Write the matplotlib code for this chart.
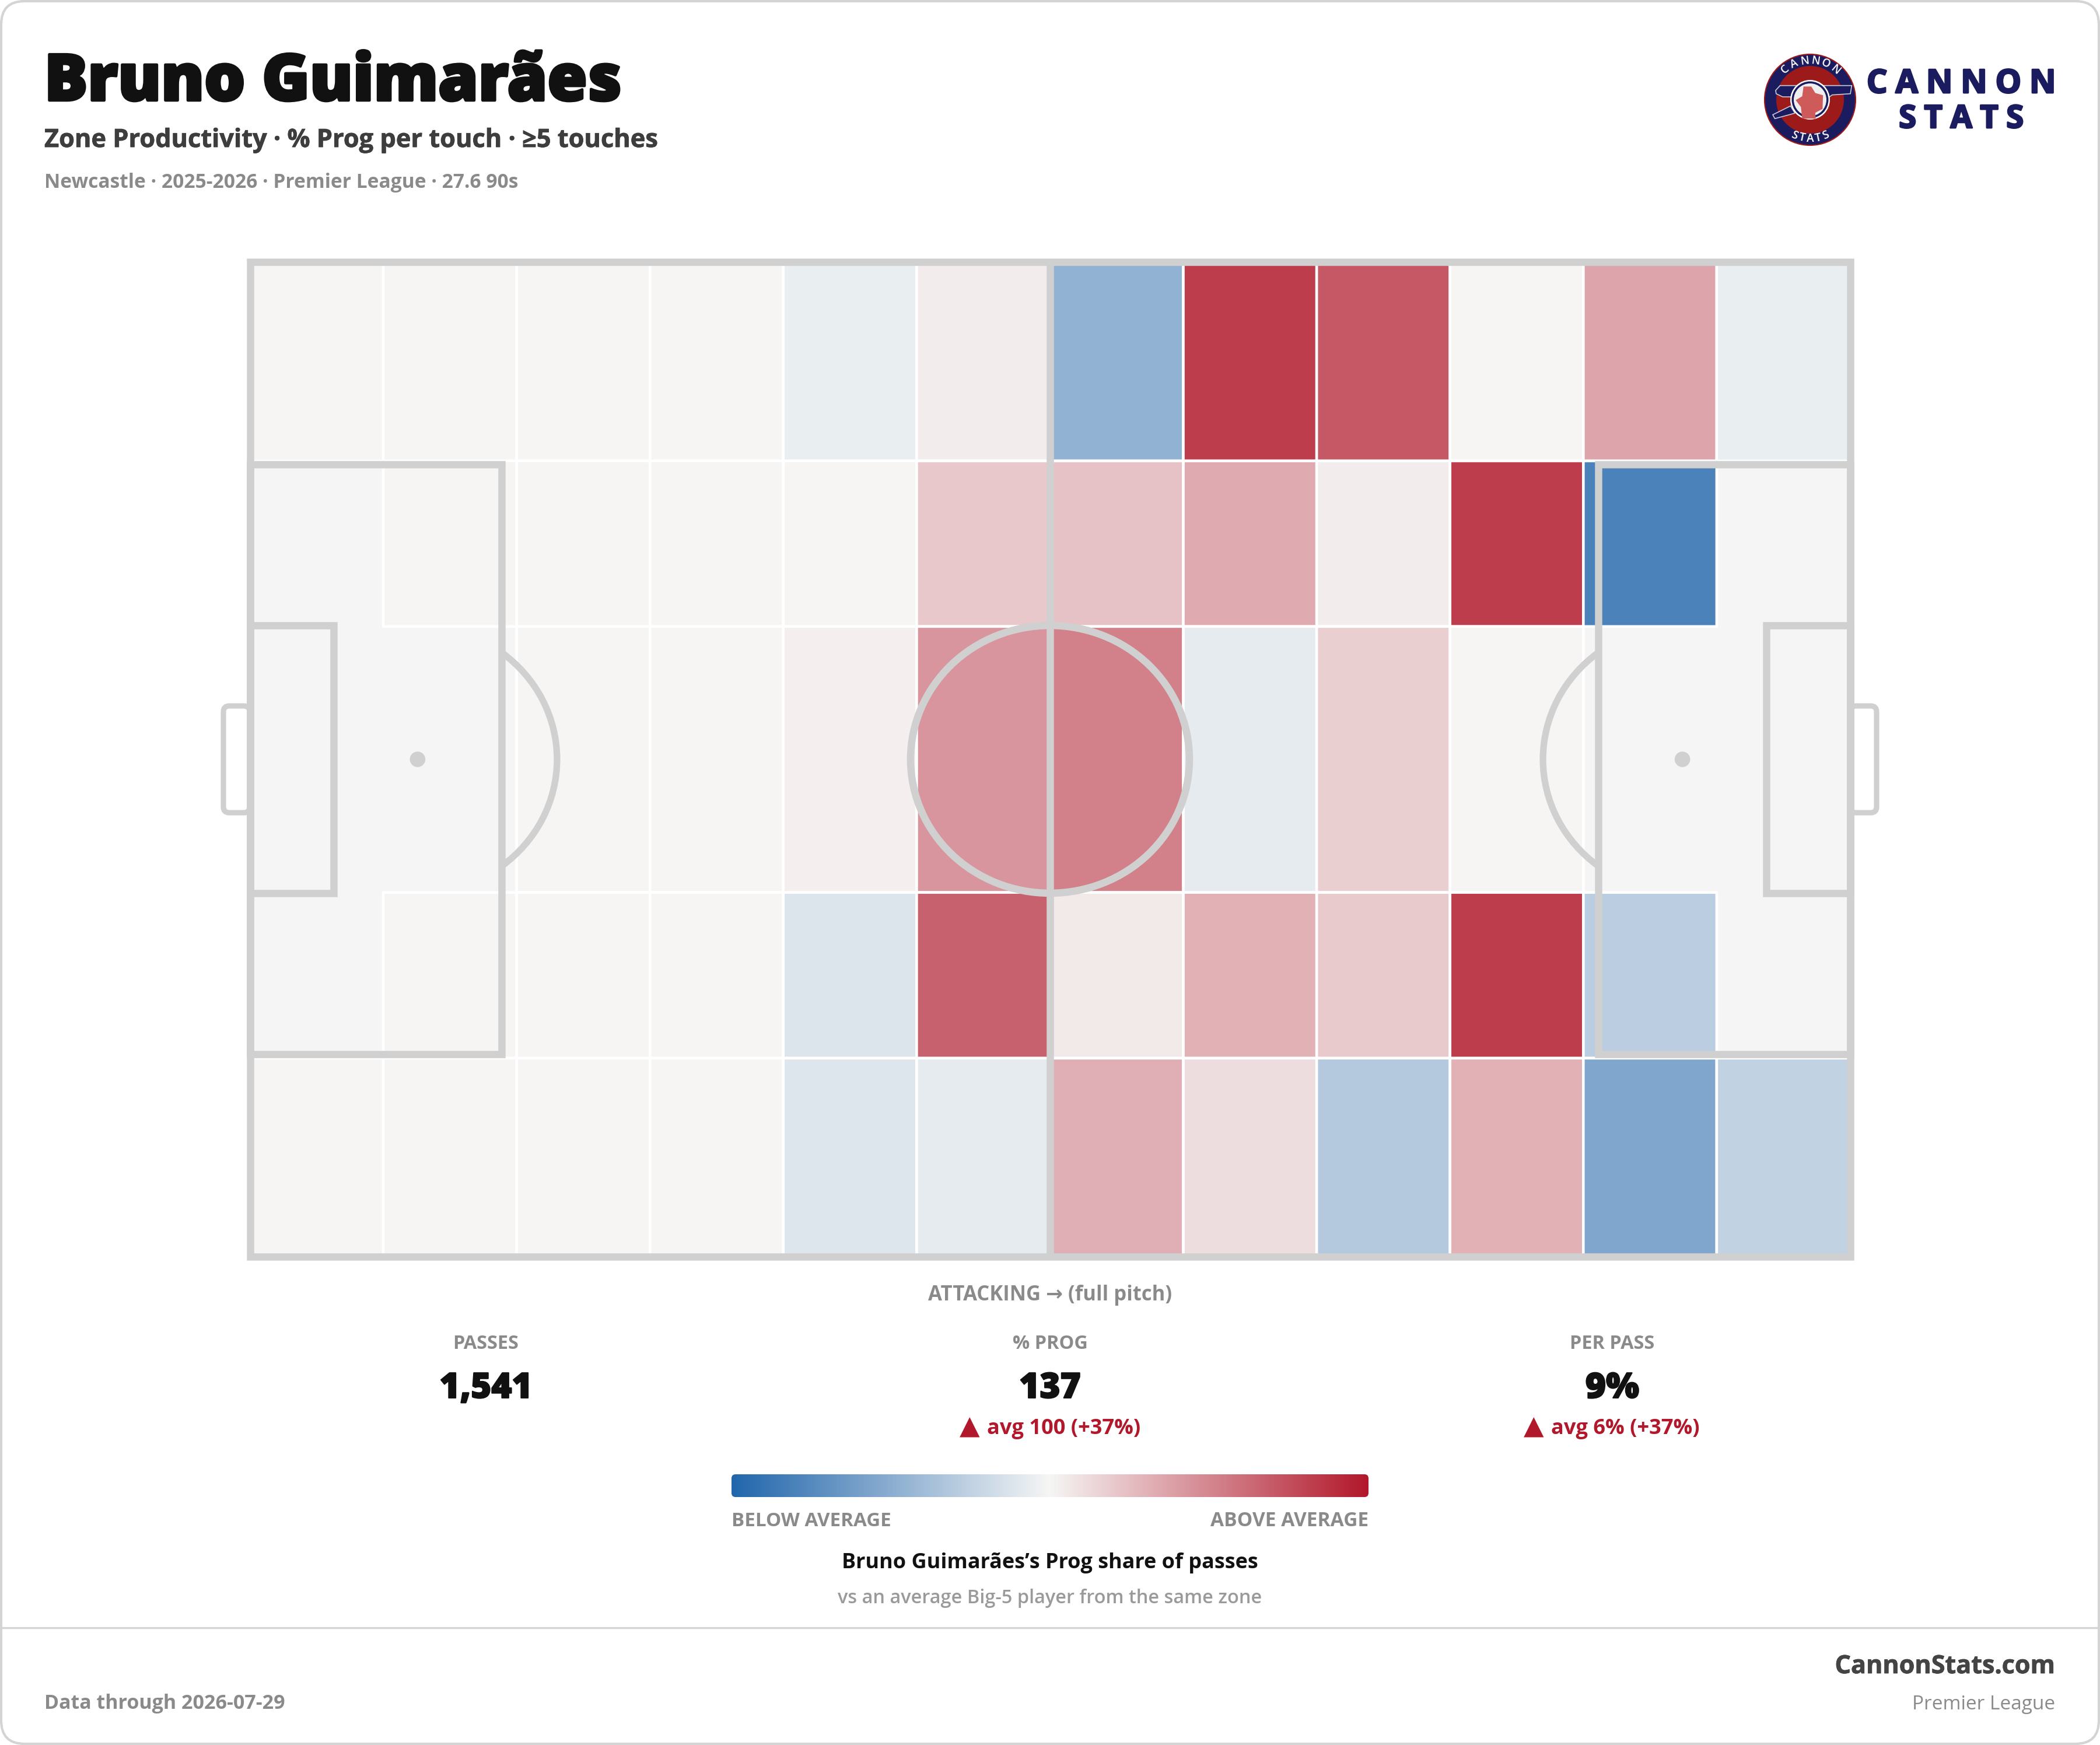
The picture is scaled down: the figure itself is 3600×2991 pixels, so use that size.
#!/usr/bin/env python3
# zone productivity pitch card
import numpy as np
import matplotlib
matplotlib.use("Agg")
import matplotlib.pyplot as plt
import matplotlib.patheffects as pe
from matplotlib.colors import LinearSegmentedColormap
from matplotlib.patches import Circle, Ellipse, FancyBboxPatch, Polygon, Rectangle, Arc

plt.rcParams["font.family"] = ["Open Sans", "DejaVu Sans"]

W, H = 3600, 2991

player = "Bruno Guimarães"
subtitle = "Zone Productivity · % Prog per touch · ≥5 touches"
meta = "Newcastle · 2025-2026 · Premier League · 27.6 90s"

# zone edges in metres, 105 x 68 pitch
x_edges = [0, 8.75, 17.5, 26.25, 35, 43.75, 52.5, 61.25, 70, 78.75, 87.5, 96.25, 105]
y_edges = [0, 13.6, 24.92, 43.1, 54.43, 68]

# share vs average per zone, -1 .. 1, nan = zone not drawn
row1 = [0, 0, 0, 0, -0.06, 0.045, -0.47, 0.83, 0.71, 0, 0.36, -0.06]
row2 = [np.nan, 0, 0, 0, 0, 0.21, 0.235, 0.34, 0.045, 0.83, -0.80, np.nan]
row3 = [np.nan, np.nan, 0, 0, 0.035, 0.43, 0.53, -0.075, 0.175, 0, np.nan, np.nan]
row4 = [np.nan, 0, 0, 0, -0.12, 0.67, 0.06, 0.31, 0.20, 0.83, -0.28, np.nan]
row5 = [0, 0, 0, 0, -0.11, -0.075, 0.32, 0.11, -0.31, 0.31, -0.55, -0.245]

stat_labels = ["PASSES", "% PROG", "PER PASS"]
stat_values = ["1,541", "137", "9%"]
stat_deltas = ["", "avg 100 (+37%)", "avg 6% (+37%)"]
stat_x = [833, 1800, 2764]
delta_x = [0, 1649, 2616]

LINE = "#d0d0d0"
GREY = "#8a8a8a"
RED = "#b2182b"
NAVY = "#1b1b60"
cmap = LinearSegmentedColormap.from_list("zone", ["#2166ac", "#f6f6f5", "#b2182b"])

fig = plt.figure(figsize=(W / 300, H / 300), dpi=300, facecolor="white")

# page layer in pixel coords
page = fig.add_axes([0, 0, 1, 1])
page.set_xlim(0, W)
page.set_ylim(H, 0)
page.axis("off")


def label(x, y, s, size, color, weight="bold", ha="left", stroke=0, **kw):
    t = page.text(x, y, s, fontsize=size, color=color, fontweight=weight, ha=ha, va="baseline", **kw)
    if stroke:
        t.set_path_effects([pe.withStroke(linewidth=stroke, foreground=color)])
    return t


page.add_patch(FancyBboxPatch((2, 2), W - 4, H - 4, boxstyle="round,pad=0,rounding_size=40",
                              fc="white", ec="#d4d4d4", lw=1))
page.plot([2, W - 2], [2790, 2790], color="#d4d4d4", lw=0.8)

label(76, 172, player, 26.5, "#111111", weight="extra bold", stroke=1.1)
label(76, 252, subtitle, 10.4, "#3d3d3d", stroke=0.2)
label(76, 322, meta, 8.05, GREY)

# logo
cx, cy = 3103, 171
page.add_patch(Circle((cx, cy), 78, fc=NAVY, ec="#9c1a1a", lw=0.5))
page.add_patch(Circle((cx, cy), 58, fc="#9c1a1a", ec="none"))


def lz(pts):
    return [(2902 + a / 2.24, 40 + b / 3) for a, b in pts]


barrel = lz([(335, 320), (610, 320), (605, 362), (535, 368), (525, 378), (345, 378), (320, 362), (318, 345)])
page.add_patch(Polygon(barrel, fc=NAVY, ec="#c9c9d6", lw=0.4))
leg = lz([(307, 470), (375, 425), (392, 462), (315, 490)])
page.add_patch(Polygon(leg, fc=NAVY, ec="#c9c9d6", lw=0.4))
page.add_patch(Circle((cx, cy), 34, fc="white", ec="none"))
page.add_patch(Circle((cx, cy), 31.5, fc=NAVY, ec="none"))
page.add_patch(Circle((cx, cy), 28, fc="#eeeeee", ec="none"))
cross = lz([(425, 325), (455, 325), (470, 358), (500, 370), (498, 440), (470, 460), (472, 490),
            (420, 490), (415, 430), (395, 395), (420, 375)])
page.add_patch(Polygon(cross, fc="#cf5a5a", ec="none"))
for word, a0, step, rad, flip in [("CANNON", -40, 16, 67, False), ("STATS", 24, -12, 67, True)]:
    for i, ch in enumerate(word):
        ang = np.radians(a0 + i * step)
        px = cx + rad * np.sin(ang)
        py = cy + (-rad * np.cos(ang) if not flip else rad * np.cos(ang))
        rot = -np.degrees(ang) if not flip else np.degrees(ang)
        page.text(px, py, ch, fontsize=4.6, color="white", fontweight="semibold", ha="center", va="center",
                  rotation=rot, rotation_mode="anchor")

label(3362, 159, "\u2005".join("CANNON"), 13.4, NAVY, ha="center", stroke=0.7)
label(3362, 219, "\u2005".join("STATS"), 13.0, NAVY, ha="center", stroke=0.7)

# pitch, metres, y down
pitch_left, pitch_right, pitch_top, pitch_bottom = 428.5, 3171.5, 449, 2154
pitch = fig.add_axes([pitch_left / W, 1 - pitch_bottom / H,
                      (pitch_right - pitch_left) / W, (pitch_bottom - pitch_top) / H])
pitch.set_xlim(0, 105)
pitch.set_ylim(68, 0)
pitch.set_facecolor("#f5f5f5")
for s in pitch.spines.values():
    s.set_visible(False)
pitch.set_xticks([])
pitch.set_yticks([])

zones = np.ma.masked_invalid(np.array([row1, row2, row3, row4, row5]))
pitch.pcolor(x_edges, y_edges, zones, cmap=cmap, vmin=-1, vmax=1, edgecolors="white", linewidth=1.1)

lw_main = 3.0
kw = dict(fill=False, ec=LINE, lw=lw_main, clip_on=False, zorder=4)
pitch.add_patch(Rectangle((0, 0), 105, 68, joinstyle="miter", **kw))
pitch.plot([52.5, 52.5], [0, 68], color=LINE, lw=lw_main, zorder=4, solid_capstyle="butt")
pitch.add_patch(Ellipse((52.5, 34), 18.3, 18.3, **kw))
for x0, w in [(0, 16.5), (105 - 16.5, 16.5)]:
    pitch.add_patch(Rectangle((x0, 13.84), w, 40.32, joinstyle="miter", **kw))
for x0, w in [(0, 5.5), (105 - 5.5, 5.5)]:
    pitch.add_patch(Rectangle((x0, 24.84), w, 18.32, joinstyle="miter", **kw))
for x0, spot, t1, t2 in [(16.5, 11, -53, 53), (88.5, 94, 127, 233)]:
    pitch.add_patch(Arc((spot, 34), 18.3, 18.3, theta1=t1, theta2=t2, ec=LINE, lw=2.7, zorder=4))
    pitch.add_patch(Ellipse((spot, 34), 1.02, 1.06, fc=LINE, ec="none", zorder=4))

# goals sit outside the axes, drawn on the page layer
for gx, gw in [(383, 45), (3172, 45)]:
    page.add_patch(FancyBboxPatch((gx, 1210), gw, 183, boxstyle="round,pad=0,rounding_size=10",
                                  fc="white", ec=LINE, lw=2.2, zorder=1))

label(1800, 2229, "ATTACKING → (full pitch)", 8.3, GREY, ha="center")
for x, dx, lab, val, delta in zip(stat_x, delta_x, stat_labels, stat_values, stat_deltas):
    label(x, 2312, lab, 7.8, GREY, ha="center")
    label(x, 2396, val, 14.4, "#111111", weight="extra bold", ha="center", stroke=0.5)
    if delta:
        # triangle is larger than the text beside it
        label(dx - 4, 2458, "▲", 10.8, RED)
        label(dx + 43, 2458, delta, 8.7, RED)

# colour scale
bar = fig.add_axes([1254 / W, 1 - 2566 / H, (2346 - 1254) / W, 39 / H])
img = bar.imshow(np.linspace(-1, 1, 512)[None, :], cmap=cmap, vmin=-1, vmax=1, aspect="auto",
                 extent=(0, 1092, 39, 0))
clip = FancyBboxPatch((0, 0), 1092, 39, boxstyle="round,pad=0,rounding_size=7", transform=bar.transData,
                      fc="none", ec="none")
bar.add_patch(clip)
img.set_clip_path(clip)
bar.axis("off")

label(1254, 2616, "BELOW AVERAGE", 7.95, GREY)
label(2346, 2616, "ABOVE AVERAGE", 8.05, GREY, ha="right")
label(1800, 2688, "Bruno Guimarães’s Prog share of passes", 8.63, "#111111", ha="center")
label(1800, 2748, "vs an average Big-5 player from the same zone", 7.8, "#9a9a9a", weight="semibold", ha="center")

label(76, 2929, "Data through 2026-07-29", 8.17, GREY)
label(3523, 2868, "CannonStats.com", 10.35, "#444444", ha="right", stroke=0.2)
label(3523, 2930, "Premier League", 8.0, GREY, weight="normal", ha="right")

fig.savefig("out.png", dpi=300)
